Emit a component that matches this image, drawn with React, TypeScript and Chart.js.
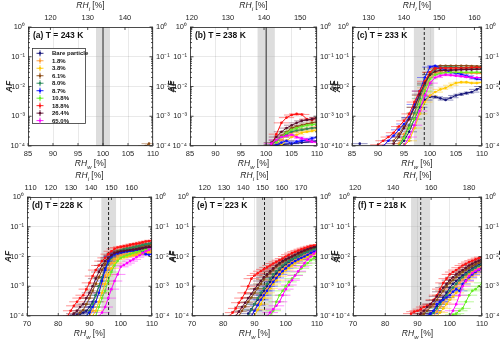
import React, { useEffect, useRef } from "react";
import { Chart, registerables } from "chart.js";
Chart.register(...registerables);

// ---------------- DATA ----------------
const seriesLabels = ["Bare particle", "1.8%", "3.8%", "6.1%", "8.0%", "8.7%", "10.8%", "18.8%", "26.4%", "65.0%"];
const seriesColors = ["#16167a", "#ff9a33", "#ffc800", "#8b4a12", "#2a8a5a", "#0a10ff", "#66ee22", "#ff1010", "#5a0f2e", "#ff00ff"];
const panelLabels = ["(a) T = 243 K", "(b) T = 238 K", "(c) T = 233 K", "(d) T = 228 K", "(e) T = 223 K", "(f) T = 218 K"];
const rhiPerRhw = [1.341, 1.406, 1.474, 1.546, 1.62, 1.698];
const rhwMin = [85, 85, 85, 70, 70, 70];
const rhwMax = [110, 110, 110, 110, 110, 110];
const rhwTicksTopRow = [85, 90, 95, 100, 105, 110];
const rhwTicksBottomRow = [70, 80, 90, 100, 110];
const rhiTicks = [
  [120, 130, 140],
  [120, 130, 140, 150],
  [130, 140, 150, 160],
  [110, 120, 130, 140, 150, 160],
  [120, 130, 140, 150, 160, 170],
  [120, 140, 160, 180],
];
const afTicks = [1e-4, 1e-3, 1e-2, 1e-1, 1];
const afTickLabels = ["10\u207B\u2074", "10\u207B\u00B3", "10\u207B\u00B2", "10\u207B\u00B9", "10\u2070"];
const bandLow = [98.6, 98.3, 96.9, 93.8, 90.6, 88.0];
const bandHigh = [101.4, 101.7, 100.8, 98.5, 95.9, 93.9];
const onsetRhw = [100, 100, 98.9, 96.1, 93.2, 91.0];
const onsetDashed = [false, false, true, true, true, true];
const rhwError = [1.5, 1.5, 1.5, 2.5, 2.5, 2.5];

// [RHw, AF] pairs, series in legend order
const afA = [[], [], [], [[108.5, 1e-4], [109.2, 1.2e-4]], [], [], [], [], [], []];

const afB = [
  [[101, 1e-4], [103, 1.1e-4], [105, 1.2e-4], [107, 1.3e-4], [109, 1.4e-4], [110, 1.5e-4]],
  [[102, 1.2e-4], [103, 1.6e-4], [104, 2.2e-4], [105, 2.8e-4], [106, 3.2e-4], [107, 3.5e-4], [108, 3.8e-4], [109, 4e-4], [110, 4.5e-4]],
  [[103, 1.1e-4], [104, 1.5e-4], [105, 2e-4], [106, 2.4e-4], [107, 2.8e-4], [108, 3e-4], [109, 3.2e-4], [110, 3.5e-4]],
  [[101, 1.1e-4], [102, 1.6e-4], [103, 2.2e-4], [104, 3e-4], [105, 4e-4], [106, 4.5e-4], [107, 5e-4], [108, 5.5e-4], [109, 6e-4], [110, 6.5e-4]],
  [[101, 1.1e-4], [102, 1.5e-4], [103, 2e-4], [104, 2.5e-4], [105, 3e-4], [106, 3.3e-4], [107, 3.5e-4], [108, 3.8e-4], [109, 4e-4], [110, 4.2e-4]],
  [[102, 1.1e-4], [103, 1.3e-4], [104, 1.5e-4], [105, 1.2e-4], [106, 1.4e-4], [107, 1.5e-4], [108, 1.6e-4], [109, 1.8e-4], [110, 2e-4]],
  [[102, 1.3e-4], [103, 2e-4], [104, 2.8e-4], [105, 3.5e-4], [106, 4e-4], [107, 4.5e-4], [108, 5e-4], [109, 5.2e-4], [110, 5.5e-4]],
  [[101, 1e-4], [102, 2.5e-4], [103, 6e-4], [104, 9e-4], [105, 1.1e-3], [106, 1.2e-3], [107, 1.15e-3], [108, 8e-4], [109, 7.5e-4], [110, 9e-4]],
  [[101, 1.3e-4], [102, 2e-4], [103, 3e-4], [104, 4e-4], [105, 5e-4], [106, 6e-4], [107, 7e-4], [108, 7.5e-4], [109, 8e-4], [110, 9e-4]],
  [[101, 1.2e-4], [102, 1.6e-4], [103, 2e-4], [104, 2.2e-4], [105, 2.4e-4], [106, 2e-4], [107, 1.8e-4], [108, 1.6e-4], [109, 1.4e-4], [110, 1.3e-4]],
];

const afC = [
  [[86.5, 1.2e-4], [90, null], [94, 1e-4], [95, 1.5e-4], [96, 3e-4], [97, 8e-4], [98, 2e-3], [99, 3.5e-3], [100, 4.5e-3], [101, 4.5e-3], [102, 4e-3], [103, 3.5e-3], [104, 4.2e-3], [105, 5e-3], [106, 5.5e-3], [107, 6e-3], [108, 6.5e-3], [109, 8e-3], [110, 1e-2]],
  [[94, 1.2e-4], [95, 2.5e-4], [96, 5e-4], [97, 1.2e-3], [98, 3.5e-3], [99, 9e-3], [100, 2e-2], [101, 2.8e-2], [102, 3e-2], [103, 3e-2], [104, 3e-2], [105, 3e-2], [106, 2.9e-2], [107, 2.9e-2], [108, 2.8e-2], [109, 2.8e-2], [110, 2.7e-2]],
  [[95, 1e-4], [96, 1.5e-4], [97, 4e-4], [98, 1.2e-3], [99, 3e-3], [100, 5e-3], [101, 6.5e-3], [102, 8e-3], [103, 9e-3], [104, 1.1e-2], [105, 1.3e-2], [106, 1.4e-2], [107, 1.4e-2], [108, 1.3e-2], [109, 1.3e-2], [110, 1.4e-2]],
  [[93, 1.5e-4], [94, 2.5e-4], [95, 4.5e-4], [96, 9e-4], [97, 2e-3], [98, 5e-3], [99, 1.2e-2], [100, 3e-2], [101, 4.5e-2], [102, 5e-2], [103, 5e-2], [104, 5e-2], [105, 5e-2], [106, 5e-2], [107, 5e-2], [108, 4.9e-2], [109, 4.8e-2], [110, 4.8e-2]],
  [[94, 1e-4], [95, 2e-4], [96, 5e-4], [97, 1.3e-3], [98, 4e-3], [99, 1.1e-2], [100, 2.5e-2], [101, 3.8e-2], [102, 4.3e-2], [103, 4.5e-2], [104, 4.5e-2], [105, 4.4e-2], [106, 4.3e-2], [107, 4.2e-2], [108, 4.2e-2], [109, 4.2e-2], [110, 4.3e-2]],
  [[91, 1e-4], [92, 1.5e-4], [93, 2.2e-4], [94, 3.5e-4], [95, 5.5e-4], [96, 9e-4], [97, 2.5e-3], [98, 7e-3], [99, 2e-2], [100, 4.5e-2], [101, 5e-2], [102, 4.2e-2], [103, 3.5e-2], [104, 3e-2], [105, 2.8e-2], [106, 2.6e-2], [107, 2.3e-2], [108, 2e-2], [109, 1.8e-2], [110, 1.7e-2]],
  [[94, 1e-4], [95, 1.8e-4], [96, 4e-4], [97, 8e-4], [98, 2.5e-3], [99, 7e-3], [100, 1.8e-2], [101, 2.5e-2], [102, 2.8e-2], [103, 2.9e-2], [104, 3e-2], [105, 3e-2], [106, 3e-2], [107, 3e-2], [108, 3e-2], [109, 3e-2], [110, 3e-2]],
  [[90, 1.1e-4], [91, 1.5e-4], [92, 2e-4], [93, 2.8e-4], [94, 4.5e-4], [95, 7e-4], [96, 1.2e-3], [97, 3e-3], [98, 7e-3], [99, 1.5e-2], [100, 3e-2], [101, 4e-2], [102, 4.2e-2], [103, 4.2e-2], [104, 4.2e-2], [105, 4.2e-2], [106, 4.2e-2], [107, 4.2e-2], [108, 4.3e-2], [109, 4.3e-2], [110, 4.3e-2]],
  [[93, 1.2e-4], [94, 2e-4], [95, 4e-4], [96, 8e-4], [97, 2e-3], [98, 5.5e-3], [99, 1.3e-2], [100, 2.5e-2], [101, 3.2e-2], [102, 3.5e-2], [103, 3.5e-2], [104, 3.6e-2], [105, 3.6e-2], [106, 3.7e-2], [107, 3.7e-2], [108, 3.7e-2], [109, 3.8e-2], [110, 3.8e-2]],
  [[95, 1e-4], [96, 2e-4], [97, 5e-4], [98, 1.5e-3], [99, 5e-3], [100, 1.3e-2], [101, 2e-2], [102, 2.3e-2], [103, 2.5e-2], [104, 2.4e-2], [105, 2.3e-2], [106, 2.2e-2], [107, 2.1e-2], [108, 2e-2], [109, 2e-2], [110, 2e-2]],
];

const afD = [
  [[85, 1e-4], [86, 1.1e-4], [87, 1.2e-4], [88, 1.3e-4], [89, 1.5e-4], [90, 2e-4], [91, 3e-4], [92, 5e-4], [93, 1e-3], [94, 2e-3], [95, 4e-3], [96, 7e-3], [97, 1e-2], [98, 1.2e-2], [99, 1.3e-2], [100, 1.4e-2], [101, 1.45e-2], [102, 1.5e-2], [103, 1.55e-2], [104, 1.6e-2], [105, 1.7e-2], [106, 1.8e-2], [107, 1.9e-2], [108, 2e-2], [109, 2e-2], [110, 2.1e-2]],
  [[90, 1e-4], [91, 1.5e-4], [92, 3e-4], [93, 6e-4], [94, 1.2e-3], [95, 2.2e-3], [96, 4e-3], [97, 6e-3], [98, 8e-3], [99, 1e-2], [100, 1.1e-2], [101, 1.15e-2], [102, 1.2e-2], [103, 1.25e-2], [104, 1.3e-2], [105, 1.35e-2], [106, 1.4e-2], [107, 1.45e-2], [108, 1.5e-2], [109, 1.55e-2], [110, 1.6e-2]],
  [[91, 1e-4], [92, 1.5e-4], [93, 3e-4], [94, 6e-4], [95, 1.2e-3], [96, 2.5e-3], [97, 4e-3], [98, 6e-3], [99, 8e-3], [100, 9e-3], [101, 9.5e-3], [102, 1e-2], [103, 1.05e-2], [104, 1.1e-2], [105, 1.15e-2], [106, 1.2e-2], [107, 1.25e-2], [108, 1.3e-2], [109, 1.35e-2], [110, 1.4e-2]],
  [[86, 1e-4], [87, 1.3e-4], [88, 1.6e-4], [89, 2.5e-4], [90, 4e-4], [91, 7e-4], [92, 1.2e-3], [93, 2e-3], [94, 3.5e-3], [95, 5.5e-3], [96, 8e-3], [97, 1.1e-2], [98, 1.3e-2], [99, 1.5e-2], [100, 1.6e-2], [101, 1.7e-2], [102, 1.8e-2], [103, 1.9e-2], [104, 2e-2], [105, 2.1e-2], [106, 2.2e-2], [107, 2.3e-2], [108, 2.4e-2], [109, 2.45e-2], [110, 2.5e-2]],
  [[89, 1e-4], [90, 1.5e-4], [91, 2.5e-4], [92, 5e-4], [93, 1e-3], [94, 2e-3], [95, 3.5e-3], [96, 6e-3], [97, 9e-3], [98, 1.2e-2], [99, 1.4e-2], [100, 1.6e-2], [101, 1.7e-2], [102, 1.8e-2], [103, 1.9e-2], [104, 2e-2], [105, 2.15e-2], [106, 2.3e-2], [107, 2.45e-2], [108, 2.6e-2], [109, 2.7e-2], [110, 2.8e-2]],
  [[89, 1e-4], [90, 1.3e-4], [91, 2e-4], [92, 3e-4], [93, 6e-4], [94, 1.5e-3], [95, 3.5e-3], [96, 7e-3], [97, 1e-2], [98, 1.2e-2], [99, 1.3e-2], [100, 1.4e-2], [101, 1.45e-2], [102, 1.5e-2], [103, 1.55e-2], [104, 1.6e-2], [105, 1.65e-2], [106, 1.7e-2], [107, 1.5e-2], [108, 1.2e-2], [109, 1.15e-2], [110, 1.2e-2]],
  [[92, 1e-4], [93, 2e-4], [94, 4e-4], [95, 7e-4], [96, 1.5e-3], [97, 3e-3], [98, 5e-3], [99, 7e-3], [100, 9e-3], [101, 1e-2], [102, 1.1e-2], [103, 1.2e-2], [104, 1.3e-2], [105, 1.4e-2], [106, 1.5e-2], [107, 1.6e-2], [108, 1.7e-2], [109, 1.75e-2], [110, 1.8e-2]],
  [[83, 1e-4], [84, 1.5e-4], [85, 2.2e-4], [86, 3e-4], [87, 4e-4], [88, 5e-4], [89, 8e-4], [90, 1.3e-3], [91, 2.2e-3], [92, 3.5e-3], [93, 5e-3], [94, 7e-3], [95, 9e-3], [96, 1.2e-2], [97, 1.5e-2], [98, 1.8e-2], [99, 2e-2], [100, 2.1e-2], [101, 2.2e-2], [102, 2.3e-2], [103, 2.45e-2], [104, 2.6e-2], [105, 2.7e-2], [106, 2.8e-2], [107, 3e-2], [108, 3.2e-2], [109, 3.3e-2], [110, 3.5e-2]],
  [[84, 1e-4], [85, 1.2e-4], [86, 1.5e-4], [87, 2e-4], [88, 2.5e-4], [89, 4e-4], [90, 6e-4], [91, 1e-3], [92, 1.8e-3], [93, 3e-3], [94, 5e-3], [95, 7e-3], [96, 9e-3], [97, 1.1e-2], [98, 1.3e-2], [99, 1.4e-2], [100, 1.5e-2], [101, 1.55e-2], [102, 1.6e-2], [103, 1.65e-2], [104, 1.7e-2], [105, 1.75e-2], [106, 1.8e-2], [107, 1.9e-2], [108, 2e-2], [109, 2.1e-2], [110, 2.2e-2]],
  [[93, 1e-4], [94, 1.3e-4], [95, 2e-4], [96, 4e-4], [97, 8e-4], [98, 1.5e-3], [99, 2.5e-3], [100, 4.5e-3], [101, 5.2e-3], [102, 6e-3], [103, 7e-3], [104, 8e-3], [105, 9.5e-3], [106, 1.1e-2], [107, 1.3e-2], [108, 1.5e-2], [109, 1.7e-2], [110, 1.9e-2]],
];

const afE = [
  [[88, 1.2e-4], [89, 1.7e-4], [90, 2.5e-4], [91, 3.5e-4], [92, 5e-4], [93, 7e-4], [94, 1e-3], [95, 1.4e-3], [96, 2e-3], [97, 2.7e-3], [98, 3.5e-3], [99, 4.5e-3], [100, 5.5e-3], [101, 6.7e-3], [102, 8e-3], [103, 9e-3], [104, 1e-2], [105, 1.15e-2], [106, 1.3e-2], [107, 1.5e-2], [108, 1.7e-2], [109, 2e-2], [110, 2.3e-2]],
  [[89, 1e-4], [90, 1.6e-4], [91, 2.5e-4], [92, 4e-4], [93, 5.5e-4], [94, 8e-4], [95, 1.1e-3], [96, 1.6e-3], [97, 2.2e-3], [98, 3e-3], [99, 3.7e-3], [100, 4.5e-3], [101, 5.5e-3], [102, 6.5e-3], [103, 7.5e-3], [104, 8.5e-3], [105, 9.7e-3], [106, 1.1e-2], [107, 1.2e-2], [108, 1.3e-2], [109, 1.4e-2], [110, 1.5e-2]],
  [[90, 1e-4], [91, 1.6e-4], [92, 2.5e-4], [93, 4e-4], [94, 6e-4], [95, 8.5e-4], [96, 1.2e-3], [97, 1.6e-3], [98, 2.2e-3], [99, 2.8e-3], [100, 3.5e-3], [101, 4.2e-3], [102, 5e-3], [103, 6e-3], [104, 7e-3], [105, 8e-3], [106, 9e-3], [107, 1e-2], [108, 1.1e-2], [109, 1.2e-2], [110, 1.3e-2]],
  [[85, 1e-4], [86, 1.5e-4], [87, 2.1e-4], [88, 3e-4], [89, 4.2e-4], [90, 6e-4], [91, 8.5e-4], [92, 1.2e-3], [93, 1.7e-3], [94, 2.2e-3], [95, 2.8e-3], [96, 3.5e-3], [97, 4.5e-3], [98, 5.5e-3], [99, 6.5e-3], [100, 7.5e-3], [101, 8.7e-3], [102, 1e-2], [103, 1.1e-2], [104, 1.2e-2], [105, 1.35e-2], [106, 1.5e-2], [107, 1.65e-2], [108, 1.8e-2], [109, 1.9e-2], [110, 2e-2]],
  [[88, 1e-4], [89, 1.6e-4], [90, 2.5e-4], [91, 4e-4], [92, 6e-4], [93, 8.5e-4], [94, 1.2e-3], [95, 1.8e-3], [96, 2.5e-3], [97, 3.2e-3], [98, 4e-3], [99, 5e-3], [100, 6e-3], [101, 7e-3], [102, 8e-3], [103, 9e-3], [104, 1e-2], [105, 1.15e-2], [106, 1.3e-2], [107, 1.45e-2], [108, 1.6e-2], [109, 1.75e-2], [110, 1.9e-2]],
  [[89, 1e-4], [90, 1.5e-4], [91, 2.3e-4], [92, 3.5e-4], [93, 5e-4], [94, 7e-4], [95, 1e-3], [96, 1.4e-3], [97, 1.9e-3], [98, 2.5e-3], [99, 3.2e-3], [100, 4e-3], [101, 5e-3], [102, 6e-3], [103, 7e-3], [104, 8e-3], [105, 9e-3], [106, 1e-2], [107, 1.15e-2], [108, 1.3e-2], [109, 1.45e-2], [110, 1.6e-2]],
  [[95, 1e-4], [96, 1.5e-4], [97, 3e-4], [98, 5e-4], [99, 7e-4], [100, 1e-3], [101, 1.4e-3], [102, 1.8e-3], [103, 2.4e-3], [104, 3e-3], [105, 4e-3], [106, 5e-3], [107, 6e-3], [108, 7.5e-3], [109, 8.7e-3], [110, 1e-2]],
  [[82, 1e-4], [83, 1.3e-4], [84, 1.8e-4], [85, 2.8e-4], [86, 4e-4], [87, 6e-4], [88, 1e-3], [89, 1.8e-3], [90, 2.3e-3], [91, 2.7e-3], [92, 3.2e-3], [93, 3.7e-3], [94, 4.3e-3], [95, 5e-3], [96, 5.8e-3], [97, 6.6e-3], [98, 7.5e-3], [99, 8.5e-3], [100, 1e-2], [101, 1.15e-2], [102, 1.3e-2], [103, 1.45e-2], [104, 1.6e-2], [105, 1.75e-2], [106, 1.9e-2], [107, 2.05e-2], [108, 2.2e-2], [109, 2.35e-2], [110, 2.5e-2]],
  [[84, 1e-4], [85, 1.4e-4], [86, 2e-4], [87, 2.8e-4], [88, 4e-4], [89, 5.5e-4], [90, 8e-4], [91, 1.1e-3], [92, 1.5e-3], [93, 2e-3], [94, 2.5e-3], [95, 3.2e-3], [96, 4e-3], [97, 5e-3], [98, 6e-3], [99, 7e-3], [100, 8e-3], [101, 9e-3], [102, 1e-2], [103, 1.15e-2], [104, 1.3e-2], [105, 1.45e-2], [106, 1.6e-2], [107, 1.75e-2], [108, 1.9e-2], [109, 2.05e-2], [110, 2.2e-2]],
  [[94, 1e-4], [95, 1.3e-4], [96, 1.7e-4], [97, 2.2e-4], [98, 3e-4], [99, 5e-4], [100, 8e-4], [101, 1.1e-3], [102, 1.6e-3], [103, 2.3e-3], [104, 3.2e-3], [105, 4.5e-3], [106, 6e-3], [107, 8e-3], [108, 1e-2], [109, 1.25e-2], [110, 1.5e-2]],
];

const afF = [
  [[93, 1e-4], [94, 1.2e-4], [95, 1.5e-4], [96, 2.1e-4], [97, 3e-4], [98, 4.2e-4], [99, 6e-4], [100, 9e-4], [101, 1.2e-3], [102, 1.5e-3], [103, 1.9e-3], [104, 2.3e-3], [105, 2.8e-3], [106, 3.3e-3], [107, 3.9e-3], [108, 4.5e-3], [109, 5.2e-3], [110, 6e-3]],
  [[95, 1e-4], [96, 1.4e-4], [97, 2e-4], [98, 2.8e-4], [99, 4e-4], [100, 6e-4], [101, 8e-4], [102, 1e-3], [103, 1.3e-3], [104, 1.7e-3], [105, 2.1e-3], [106, 2.6e-3], [107, 3.1e-3], [108, 3.6e-3], [109, 4.2e-3], [110, 4.8e-3]],
  [[96, 1e-4], [97, 1.3e-4], [98, 1.8e-4], [99, 2.5e-4], [100, 3.5e-4], [101, 4.5e-4], [102, 6e-4], [103, 8e-4], [104, 1.1e-3], [105, 1.4e-3], [106, 1.8e-3], [107, 2.3e-3], [108, 2.8e-3], [109, 3.4e-3], [110, 4e-3]],
  [[91, 1e-4], [92, 1.2e-4], [93, 1.5e-4], [94, 2e-4], [95, 2.5e-4], [96, 3.5e-4], [97, 5e-4], [98, 7e-4], [99, 1e-3], [100, 1.3e-3], [101, 1.6e-3], [102, 2e-3], [103, 2.5e-3], [104, 3e-3], [105, 3.6e-3], [106, 4.2e-3], [107, 4.8e-3], [108, 5.5e-3], [109, 6.2e-3], [110, 7e-3]],
  [[94, 1e-4], [95, 1.3e-4], [96, 1.8e-4], [97, 2.5e-4], [98, 3.5e-4], [99, 5e-4], [100, 7e-4], [101, 9e-4], [102, 1.2e-3], [103, 1.6e-3], [104, 2e-3], [105, 2.5e-3], [106, 3e-3], [107, 3.6e-3], [108, 4.2e-3], [109, 4.8e-3], [110, 5.5e-3]],
  [[93, 1e-4], [94, 1.2e-4], [95, 1.5e-4], [96, 2.5e-4], [97, 3e-4], [98, 3.5e-4], [99, 4.2e-4], [100, 5e-4], [101, 6.5e-4], [102, 8e-4], [103, 7e-4], [104, 1.2e-3], [105, 1.6e-3], [106, 2e-3], [107, 2.5e-3], [108, 3e-3], [109, 3.5e-3], [110, 4e-3]],
  [[100, 1e-4], [101, 1.1e-4], [102, 1.2e-4], [103, 1.5e-4], [104, 1.8e-4], [105, 3e-4], [106, 5e-4], [107, 7e-4], [108, 8e-4], [109, 1e-3], [110, 1.3e-3]],
  [[88, 1.2e-4], [89, 1.4e-4], [90, 1.5e-4], [91, 1.7e-4], [92, 2e-4], [93, 2.2e-4], [94, 2.5e-4], [95, 3.5e-4], [96, 5e-4], [97, 8e-4], [98, 1.3e-3], [99, 1.8e-3], [100, 2.5e-3], [101, 3e-3], [102, 3.5e-3], [103, 4.2e-3], [104, 5e-3], [105, 5.7e-3], [106, 6.5e-3], [107, 7.2e-3], [108, 8e-3], [109, 8.8e-3], [110, 9.5e-3]],
  [[90, 1e-4], [91, 1.2e-4], [92, 1.5e-4], [93, 2e-4], [94, 2.5e-4], [95, 3.3e-4], [96, 4.5e-4], [97, 6.5e-4], [98, 9e-4], [99, 1.2e-3], [100, 1.6e-3], [101, 2e-3], [102, 2.5e-3], [103, 3e-3], [104, 3.5e-3], [105, 4.2e-3], [106, 5e-3], [107, 5.7e-3], [108, 6.5e-3], [109, 7.2e-3], [110, 8e-3]],
  [[100, 1e-4], [101, 1.5e-4], [102, 2.5e-4], [103, 5e-4], [104, 1e-3], [105, 1.5e-3], [106, 2.2e-3], [107, 2.8e-3], [108, 3.3e-3], [109, 3.7e-3], [110, 4e-3]],
];

const panelData = [afA, afB, afC, afD, afE, afF];

// ---------------- LAYOUT ----------------
const PLOT_BOXES = [
  [28, 27, 153, 146],
  [190, 27, 317, 146],
  [352, 27, 482, 146],
  [27, 197, 152, 316],
  [192, 197, 317, 316],
  [353, 197, 482, 316],
];
const PAD_L = 30, PAD_R = 26, PAD_T = 27, PAD_B = 24;
const FONT = "'Liberation Sans', Arial, Helvetica, sans-serif";
const INK = "#262626";

function rgba(hex: string, a: number) {
  const n = parseInt(hex.slice(1), 16);
  return `rgba(${(n >> 16) & 255},${(n >> 8) & 255},${n & 255},${a})`;
}

function drawRH(ctx: CanvasRenderingContext2D, cx: number, base: number, sub: string) {
  const f1 = `italic 8.5px ${FONT}`, f2 = `italic 6px ${FONT}`, f3 = `8.5px ${FONT}`;
  ctx.font = f1; const w1 = ctx.measureText("RH").width;
  ctx.font = f2; const w2 = ctx.measureText(sub).width;
  ctx.font = f3; const w3 = ctx.measureText(" [%]").width;
  let x = cx - (w1 + w2 + w3) / 2;
  ctx.textAlign = "left"; ctx.textBaseline = "alphabetic"; ctx.fillStyle = INK;
  ctx.font = f1; ctx.fillText("RH", x, base); x += w1;
  ctx.font = f2; ctx.fillText(sub, x, base + 2.5); x += w2;
  ctx.font = f3; ctx.fillText(" [%]", x, base);
}

function drawAF(ctx: CanvasRenderingContext2D, x: number, y: number) {
  ctx.save();
  ctx.translate(x, y);
  ctx.rotate(-Math.PI / 2);
  ctx.font = `bold italic 8.5px ${FONT}`;
  ctx.fillStyle = INK; ctx.textAlign = "center"; ctx.textBaseline = "middle";
  ctx.fillText("AF", 0, 0);
  ctx.restore();
}

function makeDecor(p: number) {
  return {
    id: "decor" + p,
    beforeDatasetsDraw(chart: any) {
      const { ctx, chartArea: a, scales } = chart;
      const xs = scales.x;
      ctx.save();
      ctx.beginPath();
      ctx.rect(a.left, a.top, a.right - a.left, a.bottom - a.top);
      ctx.clip();
      // band
      const b0 = xs.getPixelForValue(bandLow[p]);
      const b1 = xs.getPixelForValue(bandHigh[p]);
      ctx.fillStyle = "rgba(170,170,170,0.4)";
      ctx.fillRect(b0, a.top, b1 - b0, a.bottom - a.top);
      // onset line
      const lx = xs.getPixelForValue(onsetRhw[p]);
      ctx.beginPath();
      if (onsetDashed[p]) { ctx.setLineDash([3, 2]); ctx.strokeStyle = "#222"; ctx.lineWidth = 1; }
      else { ctx.strokeStyle = "#555"; ctx.lineWidth = 1.3; }
      ctx.moveTo(lx, a.top); ctx.lineTo(lx, a.bottom); ctx.stroke();
      ctx.setLineDash([]);
      // horizontal error bars
      const ys = scales.y;
      chart.data.datasets.forEach((ds: any, i: number) => {
        ctx.strokeStyle = rgba(seriesColors[i], 0.45);
        ctx.lineWidth = 1;
        ctx.beginPath();
        for (const pt of ds.data) {
          if (pt.y == null) continue;
          const py = ys.getPixelForValue(pt.y);
          ctx.moveTo(xs.getPixelForValue(pt.x - rhwError[p]), py);
          ctx.lineTo(xs.getPixelForValue(pt.x + rhwError[p]), py);
        }
        ctx.stroke();
      });
      ctx.restore();
    },
    afterDraw(chart: any) {
      const { ctx, chartArea: a, scales } = chart;
      const xs = scales.x, xt = scales.x2, ys = scales.y;
      ctx.save();
      ctx.strokeStyle = INK; ctx.lineWidth = 0.8;
      ctx.beginPath();
      const xt0 = p < 3 ? rhwTicksTopRow : rhwTicksBottomRow;
      for (const v of xt0) { const px = xs.getPixelForValue(v); ctx.moveTo(px, a.bottom); ctx.lineTo(px, a.bottom - 3); }
      for (const v of rhiTicks[p]) { const px = xt.getPixelForValue(v); ctx.moveTo(px, a.top); ctx.lineTo(px, a.top + 3); }
      for (let d = 0; d < afTicks.length; d++) {
        const py = ys.getPixelForValue(afTicks[d]);
        ctx.moveTo(a.left, py); ctx.lineTo(a.left + 3.5, py);
        ctx.moveTo(a.right, py); ctx.lineTo(a.right - 3.5, py);
        if (d < afTicks.length - 1) {
          for (let k = 2; k <= 9; k++) {
            const my = ys.getPixelForValue(afTicks[d] * k);
            ctx.moveTo(a.left, my); ctx.lineTo(a.left + 2, my);
            ctx.moveTo(a.right, my); ctx.lineTo(a.right - 2, my);
          }
        }
      }
      ctx.stroke();
      ctx.strokeRect(a.left + 0.5, a.top + 0.5, a.right - a.left - 1, a.bottom - a.top - 1);

      const cx = (a.left + a.right) / 2, cy = (a.top + a.bottom) / 2;
      drawRH(ctx, cx, a.bottom + 20, "w");
      drawRH(ctx, cx, a.top - 19, "i");
      drawAF(ctx, a.left - 18, cy);
      drawAF(ctx, a.right + 21, cy);

      ctx.font = `bold 8.5px ${FONT}`;
      ctx.fillStyle = "#111"; ctx.textAlign = "left"; ctx.textBaseline = "alphabetic";
      ctx.fillText(panelLabels[p], a.left + 5, a.top + 11);

      if (p === 0) {
        const lx = a.left + 4, ly = a.top + 21, lw = 53, lh = 75;
        ctx.fillStyle = "#fff";
        ctx.fillRect(lx, ly, lw, lh);
        ctx.strokeStyle = "#333"; ctx.lineWidth = 0.8;
        ctx.strokeRect(lx + 0.5, ly + 0.5, lw, lh);
        for (let i = 0; i < seriesLabels.length; i++) {
          const ey = ly + 5.3 + i * 7.48;
          const mx = lx + 8;
          ctx.strokeStyle = seriesColors[i]; ctx.lineWidth = 0.9;
          ctx.beginPath();
          ctx.moveTo(mx - 3.5, ey); ctx.lineTo(mx + 3.5, ey);
          ctx.moveTo(mx, ey - 3); ctx.lineTo(mx, ey + 3);
          ctx.stroke();
          ctx.fillStyle = seriesColors[i];
          ctx.beginPath(); ctx.arc(mx, ey, 1.2, 0, Math.PI * 2); ctx.fill();
          ctx.fillStyle = "#111";
          ctx.font = `bold 6px ${FONT}`;
          ctx.textBaseline = "middle";
          ctx.fillText(seriesLabels[i], lx + 20, ey + 0.5);
        }
      }
      ctx.restore();
    },
  };
}

function Panel({ idx }: { idx: number }) {
  const ref = useRef<HTMLCanvasElement>(null);
  const [L, T, R, B] = PLOT_BOXES[idx];
  const W = R - L + PAD_L + PAD_R;
  const H = B - T + PAD_T + PAD_B;

  useEffect(() => {
    const r = rhiPerRhw[idx];
    const xTicks = idx < 3 ? rhwTicksTopRow : rhwTicksBottomRow;
    const tickFont = { family: FONT, size: 7.5 };
    const datasets = panelData[idx].map((s: any[], i: number) => ({
      label: seriesLabels[i],
      data: s.map(([x, y]) => ({ x, y })),
      showLine: true,
      borderColor: seriesColors[i],
      backgroundColor: seriesColors[i],
      borderWidth: 1,
      pointRadius: 1.3,
      pointBorderWidth: 0,
      pointHoverRadius: 0,
      spanGaps: false,
      order: -i,
    }));
    const chart = new Chart(ref.current as HTMLCanvasElement, {
      type: "scatter",
      data: { datasets },
      options: {
        animation: false,
        responsive: false,
        devicePixelRatio: 1,
        events: [],
        layout: { padding: 0 },
        plugins: { legend: { display: false }, tooltip: { enabled: false } },
        scales: {
          x: {
            type: "linear", position: "bottom", min: rhwMin[idx], max: rhwMax[idx],
            afterBuildTicks: (s: any) => { s.ticks = xTicks.map((v) => ({ value: v })); },
            afterFit: (s: any) => { s.height = PAD_B; s.paddingLeft = 0; s.paddingRight = 0; },
            ticks: { font: tickFont, color: INK, padding: 3, autoSkip: false, maxRotation: 0 },
            grid: { color: "rgba(38,38,38,0.13)", lineWidth: 0.8, drawTicks: false },
            border: { display: false },
          },
          x2: {
            type: "linear", position: "top", axis: "x", min: rhwMin[idx] * r, max: rhwMax[idx] * r,
            afterBuildTicks: (s: any) => { s.ticks = rhiTicks[idx].map((v) => ({ value: v })); },
            afterFit: (s: any) => { s.height = PAD_T; s.paddingLeft = 0; s.paddingRight = 0; },
            ticks: { font: tickFont, color: INK, padding: 5, autoSkip: false, maxRotation: 0 },
            grid: { display: false, drawTicks: false },
            border: { display: false },
          },
          y: {
            type: "logarithmic", position: "left", min: 1e-4, max: 1,
            afterBuildTicks: (s: any) => { s.ticks = afTicks.map((v) => ({ value: v })); },
            afterFit: (s: any) => { s.width = PAD_L; s.paddingTop = 0; s.paddingBottom = 0; },
            ticks: { font: tickFont, color: INK, padding: 3, callback: (v: any) => afTickLabels[afTicks.indexOf(Number(v))] ?? "" },
            grid: { color: "rgba(38,38,38,0.13)", lineWidth: 0.8, drawTicks: false },
            border: { display: false },
          },
          y2: {
            type: "logarithmic", position: "right", axis: "y", min: 1e-4, max: 1,
            afterBuildTicks: (s: any) => { s.ticks = afTicks.map((v) => ({ value: v })); },
            afterFit: (s: any) => { s.width = PAD_R; s.paddingTop = 0; s.paddingBottom = 0; },
            ticks: { font: tickFont, color: INK, padding: 3, callback: (v: any) => afTickLabels[afTicks.indexOf(Number(v))] ?? "" },
            grid: { display: false, drawTicks: false },
            border: { display: false },
          },
        },
      } as any,
      plugins: [makeDecor(idx)],
    });
    return () => chart.destroy();
  }, [idx]);

  return (
    <canvas
      ref={ref}
      width={W}
      height={H}
      style={{ position: "absolute", left: L - PAD_L, top: T - PAD_T, width: W, height: H }}
    />
  );
}

export default function App() {
  return (
    <div style={{ position: "absolute", left: 0, top: 0, width: 500, height: 343, overflow: "hidden", background: "#fff" }}>
      {[0, 1, 2, 3, 4, 5].map((i) => (
        <Panel key={i} idx={i} />
      ))}
    </div>
  );
}
